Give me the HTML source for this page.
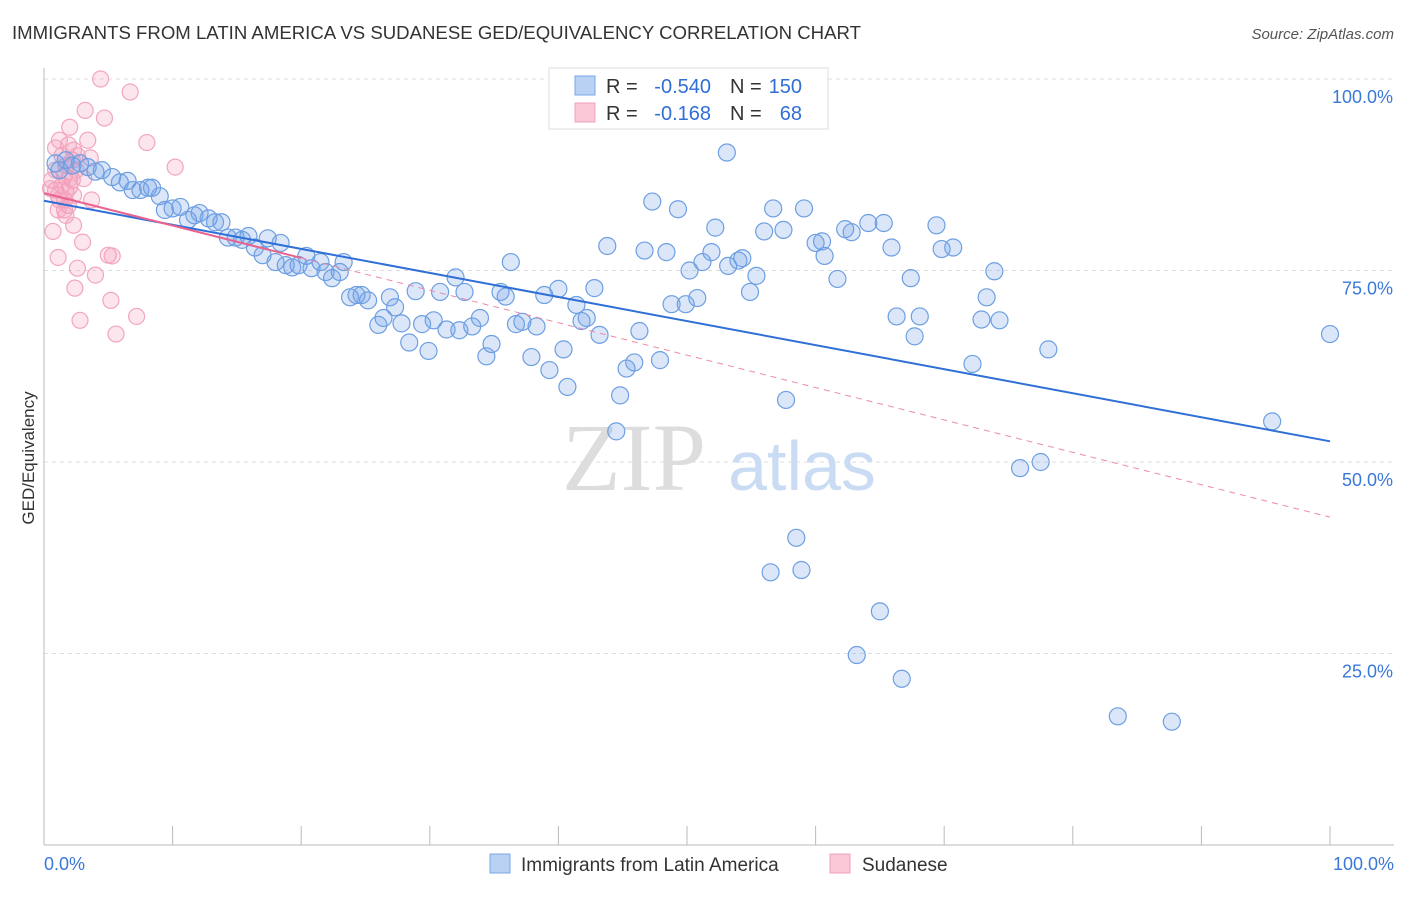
<!DOCTYPE html>
<html><head><meta charset="utf-8"><style>
body{margin:0;background:#fff;font-family:"Liberation Sans",sans-serif;}
svg text{font-family:"Liberation Sans",sans-serif;}
</style></head><body>
<svg id="chart" width="1406" height="892" xmlns="http://www.w3.org/2000/svg">
<text x="12" y="39" font-size="18.6" fill="#333" textLength="849" lengthAdjust="spacingAndGlyphs">IMMIGRANTS FROM LATIN AMERICA VS SUDANESE GED/EQUIVALENCY CORRELATION CHART</text>
<text x="1394" y="39" font-size="15" fill="#555" text-anchor="end" font-style="italic">Source: ZipAtlas.com</text>
<g id="grid"></g>
<g>
<text x="634" y="490" font-size="96" fill="#ddd" text-anchor="middle" style="font-family:'Liberation Serif',serif">ZIP</text>
<text x="802" y="490" font-size="70" fill="#c9dcf3" text-anchor="middle">atlas</text>
</g>
<g id="axes"></g>
<g id="pts"></g>
<g id="lines"></g>
<text x="34" y="458" font-size="17" fill="#333" text-anchor="middle" transform="rotate(-90 34 458)">GED/Equivalency</text>
<g>
<rect x="549" y="68" width="279" height="61" fill="#fff" stroke="#ddd"/>
<rect x="575" y="76" width="20" height="19" fill="#b9d2f3" stroke="#7aa6e4"/>
<rect x="575" y="103" width="20" height="19" fill="#fbc8d8" stroke="#f0a0bc"/>
<text x="606" y="93" font-size="20" fill="#333">R =</text>
<text x="711" y="93" font-size="20" fill="#2f6fd6" text-anchor="end">-0.540</text>
<text x="730" y="93" font-size="20" fill="#333">N =</text>
<text x="802" y="93" font-size="20" fill="#2f6fd6" text-anchor="end">150</text>
<text x="606" y="120" font-size="20" fill="#333">R =</text>
<text x="711" y="120" font-size="20" fill="#2f6fd6" text-anchor="end">-0.168</text>
<text x="730" y="120" font-size="20" fill="#333">N =</text>
<text x="802" y="120" font-size="20" fill="#2f6fd6" text-anchor="end">68</text>
</g>
<g>
<rect x="490" y="854" width="20" height="19" fill="#b9d2f3" stroke="#7aa6e4"/>
<text x="521" y="871" font-size="19" fill="#333">Immigrants from Latin America</text>
<rect x="830" y="854" width="20" height="19" fill="#fbc8d8" stroke="#f0a0bc"/>
<text x="862" y="871" font-size="19" fill="#333">Sudanese</text>
</g>
</svg>
<script>
const yTicks=[100,75,50,25];
const yTickLabels=["100.0%","75.0%","50.0%","25.0%"];
const xTicks=[0,10,20,30,40,50,60,70,80,90,100];
const blueX=[0.9,1.2,1.7,2.2,2.8,3.4,4.0,4.5,5.3,5.9,6.5,6.9,7.5,8.1,8.4,9.0,9.4,10.0,10.6,11.2,11.7,12.1,12.8,13.3,13.8,14.3,14.9,15.4,15.9,16.4,17.0,17.4,18.0,18.4,18.8,19.3,19.8,20.4,20.8,21.5,21.9,22.4,23.0,23.3,23.8,24.3,24.7,25.2,26.0,26.4,26.9,27.3,27.8,28.4,28.9,29.4,29.9,30.3,30.8,31.3,32.0,32.3,32.7,33.3,33.9,34.4,34.8,35.5,35.9,36.3,36.7,37.2,37.9,38.3,38.9,39.3,40.0,40.4,40.7,41.4,41.8,42.2,42.8,43.2,43.8,44.8,44.5,45.3,45.9,46.3,46.7,47.3,47.9,48.4,48.8,49.3,49.9,50.2,50.8,51.2,51.9,52.2,53.1,53.2,54.0,54.3,54.9,55.4,56.0,56.7,57.5,57.7,58.5,58.9,56.5,59.1,60.0,60.5,60.7,61.7,62.3,62.8,64.1,65.0,65.3,63.2,65.9,66.3,66.7,67.4,67.7,68.1,69.4,69.8,70.7,72.2,72.9,73.3,73.9,74.3,75.9,77.5,78.1,83.5,87.7,95.5,100];
const blueY=[89.0,88.1,89.4,88.7,89.0,88.5,87.9,88.1,87.2,86.5,86.7,85.5,85.5,85.8,85.8,84.7,82.9,83.1,83.3,81.6,82.2,82.5,81.8,81.3,81.3,79.3,79.3,79.0,79.5,78.0,77.0,79.2,76.1,78.6,75.7,75.4,75.7,76.9,75.3,76.1,74.8,74.0,74.8,76.1,71.5,71.8,71.8,71.1,67.9,68.8,71.5,70.2,68.1,65.6,72.3,68.0,64.5,68.5,72.2,67.3,74.1,67.2,72.2,67.7,68.8,63.8,65.4,72.2,71.6,76.1,68.0,68.3,63.7,67.7,71.8,62.0,72.6,64.7,59.8,70.5,68.4,68.8,72.7,66.6,78.2,58.7,54.0,62.2,63.0,67.1,77.6,84.0,63.3,77.4,70.6,83.0,70.6,75.0,71.4,76.1,77.4,80.6,90.4,75.6,76.3,76.6,72.2,74.3,80.1,83.1,80.3,58.1,40.1,35.9,35.6,83.1,78.6,78.8,76.9,73.9,80.4,80.0,81.2,30.5,81.2,24.8,78.0,69.0,21.7,74.0,66.4,69.0,80.9,77.8,78.0,62.8,68.6,71.5,74.9,68.5,49.2,50.0,64.7,16.8,16.1,55.3,66.7];
const pinkX=[0.7,1.1,1.2,1.6,1.7,1.9,2.0,2.2,2.3,2.4,2.6,2.8,3.0,3.2,3.4,3.7,4.0,4.4,4.7,5.0,5.2,5.3,5.6,6.7,7.2,8.0,10.2,0.6,0.9,1.1,1.4,1.6,1.7,2.0,2.2,2.3,2.5,1.2,0.9,0.5,1.9,2.6,3.1,1.4,0.9,1.7,3.6,2.0,1.6,1.1,2.3];
const pinkY=[80.1,76.7,92.0,82.9,88.7,91.4,93.7,86.8,80.9,72.7,75.3,68.5,78.7,95.9,92.0,84.2,74.4,100,94.9,77.0,71.1,76.9,66.7,98.3,69.0,91.7,88.5,86.8,85.5,84.8,86.1,87.4,85.2,85.9,89.4,90.7,88.1,84.2,88.1,85.7,83.5,90.0,87.0,90.0,91.0,82.2,89.7,87.0,84.2,82.9,84.8];
const blueTrend=[84.1,52.7];
const pinkTrend=[85.1,42.8];
const pinkSolidEnd=20;
const NS="http://www.w3.org/2000/svg";
const X=v=>44+v*12.86, Y=v=>845-v*7.66;
function mk(t,a,p){const e=document.createElementNS(NS,t);for(const k in a)e.setAttribute(k,a[k]);p.appendChild(e);return e;}
const grid=document.getElementById('grid'),axes=document.getElementById('axes'),pts=document.getElementById('pts'),lines=document.getElementById('lines');
yTicks.forEach((t,i)=>{
 const l=mk('line',{x1:44,x2:1394,y1:Y(t),y2:Y(t),stroke:'#ddd','stroke-dasharray':'4,4'},grid);
 
 
 const tx=mk('text',{x:1393,y:Y(t)+24,'font-size':18,fill:'#3a78d8','text-anchor':'end'},axes);
 tx.textContent=yTickLabels[i];
 
 
});
mk('line',{x1:44,x2:44,y1:68,y2:845,stroke:'#bbb'},axes);
mk('line',{x1:44,x2:1394,y1:845,y2:845,stroke:'#bbb'},axes);
xTicks.forEach(t=>{const l=mk('line',{x1:X(t),x2:X(t),y1:826,y2:845,stroke:'#bbb'},axes);
 
 });
let a=mk('text',{x:44,y:870,'font-size':18,fill:'#3a78d8'},axes);a.textContent='0.0%';

a=mk('text',{x:1394,y:870,'font-size':18,fill:'#3a78d8','text-anchor':'end'},axes);a.textContent='100.0%';

pinkX.forEach((x,i)=>{const c=mk('circle',{cx:X(x),cy:Y(pinkY[i]),r:8,fill:'rgba(244,150,180,0.25)',stroke:'#f2a6c0','stroke-width':1.2},pts);
 
 });
blueX.forEach((x,i)=>{const c=mk('circle',{cx:X(x),cy:Y(blueY[i]),r:8.5,fill:'rgba(110,160,230,0.25)',stroke:'#6d9fe2','stroke-width':1.2},pts);
 
 });
let ln=mk('line',{x1:X(0),y1:Y(blueTrend[0]),x2:X(100),y2:Y(blueTrend[1]),stroke:'#2f6fd6','stroke-width':2},lines);


const pAt=v=>pinkTrend[0]+(pinkTrend[1]-pinkTrend[0])*v/100;
ln=mk('line',{x1:X(0),y1:Y(pinkTrend[0]),x2:X(pinkSolidEnd),y2:Y(pAt(pinkSolidEnd)),stroke:'#e8648f','stroke-width':2},lines);


ln=mk('line',{x1:X(pinkSolidEnd),y1:Y(pAt(pinkSolidEnd)),x2:X(100),y2:Y(pinkTrend[1]),stroke:'#eb8aaa','stroke-width':1,'stroke-dasharray':'6,5'},lines);


</script>
</body></html>
